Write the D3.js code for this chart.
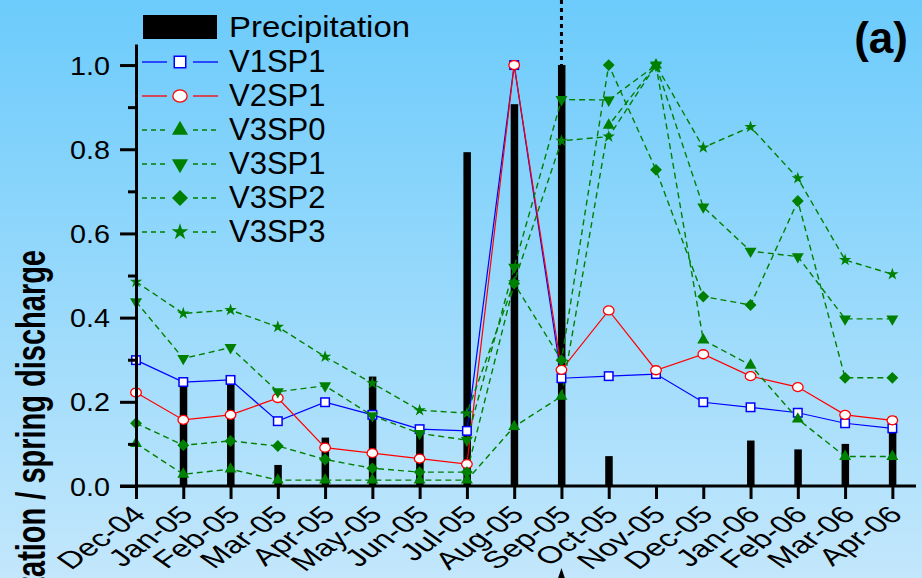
<!DOCTYPE html>
<html>
<head>
<meta charset="utf-8">
<script src="https://cdn.jsdelivr.net/npm/d3@7"></script>
<style>
  html, body { margin: 0; padding: 0; overflow: hidden; }
  #chart { width: 922px; height: 578px; }
  text { font-family: "Liberation Sans", Arial, sans-serif; fill: #000; }
</style>
</head>
<body>
<div id="chart"></div>
<script>
const months = ["Dec-04", "Jan-05", "Feb-05", "Mar-05", "Apr-05", "May-05", "Jun-05", "Jul-05", "Aug-05",
    "Sep-05", "Oct-05", "Nov-05", "Dec-05", "Jan-06", "Feb-06", "Mar-06", "Apr-06"];
const precipitation = [0, 0.247, 0.25, 0.05, 0.115, 0.26, 0.135, 0.793, 0.907, 1.0, 0.071, 0, 0, 0.108, 0.087, 0.10, 0.166];
const v1sp1 = [0.299, 0.247, 0.252, 0.154, 0.199, 0.169, 0.135, 0.131, 1.0, 0.256, 0.261, 0.266, 0.199, 0.187, 0.174, 0.149, 0.137];
const v2sp1 = [0.222, 0.157, 0.169, 0.209, 0.091, 0.078, 0.065, 0.052, 1.0, 0.276, 0.417, 0.275, 0.313, 0.261, 0.235, 0.169, 0.156];
const v3sp0 = [0.101, 0.028, 0.040, 0.014, 0.014, 0.014, 0.014, 0.014, 0.141, 0.213, 0.857, 1.0, 0.347, 0.287, 0.159, 0.070, 0.070];
const v3sp1 = [0.438, 0.303, 0.329, 0.224, 0.238, 0.167, 0.125, 0.109, 0.520, 0.918, 0.917, 1.0, 0.663, 0.558, 0.545, 0.397, 0.397];
const v3sp2 = [0.149, 0.097, 0.107, 0.095, 0.063, 0.042, 0.033, 0.033, 0.481, 0.299, 1.0, 0.751, 0.45, 0.43, 0.677, 0.257, 0.257];
const v3sp3 = [0.485, 0.41, 0.418, 0.378, 0.307, 0.244, 0.18, 0.173, 0.484, 0.82, 0.83, 1.0, 0.804, 0.853, 0.731, 0.537, 0.503];
const yTicks = [0, 0.2, 0.4, 0.6, 0.8, 1.0];

const width = 922, height = 578;
const green = "#008000";

const series = [
    { name: "V1SP1", values: v1sp1, color: "#0000ff", dash: null, shape: "square" },
    { name: "V2SP1", values: v2sp1, color: "#ff0000", dash: null, shape: "circle" },
    { name: "V3SP0", values: v3sp0, color: green, dash: "6,4", shape: "up" },
    { name: "V3SP1", values: v3sp1, color: green, dash: "6,4", shape: "down" },
    { name: "V3SP2", values: v3sp2, color: green, dash: "6,4", shape: "diamond" },
    { name: "V3SP3", values: v3sp3, color: green, dash: "6,4", shape: "star" }
];

const svg = d3.select("#chart").append("svg")
    .attr("width", width)
    .attr("height", height);

const grad = svg.append("defs").append("linearGradient")
    .attr("id", "bg").attr("x1", 0).attr("y1", 0).attr("x2", 0).attr("y2", 1);
grad.append("stop").attr("offset", "0%").attr("stop-color", "#6ccbfb");
grad.append("stop").attr("offset", "100%").attr("stop-color", "#c3e7fc");
svg.append("rect").attr("width", width).attr("height", height).attr("fill", "url(#bg)");

const x = d3.scaleLinear().domain([0, 16.5]).range([136, 916]);
const y = d3.scaleLinear().domain([0, 1.05]).range([486, 44]);

// markers
function drawMarker(g, shape, color, cx, cy, big) {
    const k = big ? 1.35 : 1;
    if (shape === "square") {
        const s = 8.5 * k;
        g.append("rect").attr("x", cx - s / 2).attr("y", cy - s / 2).attr("width", s).attr("height", s)
            .attr("fill", "#fff").attr("stroke", color).attr("stroke-width", 1.5);
    } else if (shape === "circle") {
        g.append("ellipse").attr("cx", cx).attr("cy", cy).attr("rx", 5.3 * k).attr("ry", 4.5 * k)
            .attr("fill", "#fff").attr("stroke", color).attr("stroke-width", 1.3);
    } else {
        let sym, rot = 0, size;
        if (shape === "up") { sym = d3.symbolTriangle; size = 62 * k * k; }
        if (shape === "down") { sym = d3.symbolTriangle; size = 62 * k * k; rot = 180; }
        if (shape === "diamond") { sym = d3.symbolSquare; size = 70 * k * k; rot = 45; }
        if (shape === "star") { sym = d3.symbolStar; size = 48 * k * k; }
        g.append("path").attr("d", d3.symbol(sym, size)())
            .attr("transform", `translate(${cx},${cy}) rotate(${rot})`)
            .attr("fill", color);
    }
}

// bars
svg.append("g")
    .selectAll("rect")
    .data(precipitation.map((v, i) => ({ v, i })).filter(d => d.v > 0))
    .join("rect")
    .attr("x", d => x(d.i) - 3.5)
    .attr("y", d => y(d.v))
    .attr("width", 7.5)
    .attr("height", d => y(0) - y(d.v))
    .attr("fill", "#000");

// dotted marker line at Sep-05
svg.append("line")
    .attr("x1", x(9)).attr("x2", x(9))
    .attr("y1", 0).attr("y2", y(1.0))
    .attr("stroke", "#000").attr("stroke-width", 3).attr("stroke-dasharray", "4,4");

// lines
const line = d3.line().x((d, i) => x(i)).y(d => y(d));
series.forEach(s => {
    svg.append("path")
        .attr("d", line(s.values))
        .attr("fill", "none")
        .attr("stroke", s.color)
        .attr("stroke-width", s.dash ? 1.4 : 1.2)
        .attr("stroke-dasharray", s.dash);
});
series.forEach(s => {
    const g = svg.append("g");
    s.values.forEach((v, i) => drawMarker(g, s.shape, s.color, x(i), y(v), false));
});

// axes
const xAxis = svg.append("g")
    .attr("transform", `translate(0,${y(0)})`)
    .call(d3.axisBottom(x).tickValues(d3.range(0.5, 17, 1)).tickSize(7).tickFormat(""));
xAxis.call(d3.axisBottom(x).tickValues(d3.range(0, 17)).tickSize(13).tickSizeOuter(0)
    .tickFormat(i => months[i]));
xAxis.select(".domain").remove();
xAxis.append("line").attr("x1", 120).attr("x2", 916).attr("stroke", "#000").attr("stroke-width", 3);
// labels are drawn wide, like the stretched original
xAxis.selectAll("text")
    .attr("font-size", 24)
    .attr("text-anchor", "end")
    .attr("dy", null)
    .attr("y", 0)
    .attr("transform", "translate(11,30) scale(1.4,1) rotate(-45)");

const yMinor = svg.append("g")
    .attr("transform", `translate(${x(0)},0)`)
    .call(d3.axisLeft(y).tickValues([0.1, 0.3, 0.5, 0.7, 0.9]).tickSize(8).tickFormat(""));
yMinor.select(".domain").remove();
const yAxis = svg.append("g")
    .attr("transform", `translate(${x(0)},0)`)
    .call(d3.axisLeft(y).tickValues(yTicks).tickSize(16).tickSizeOuter(0).tickPadding(10)
        .tickFormat(d3.format(".1f")));
yAxis.select(".domain").attr("stroke-width", 3);
svg.selectAll("g line").attr("stroke-width", 3);
yAxis.selectAll("text").attr("font-size", 25).attr("dy", "0.36em")
    .attr("textLength", 40).attr("lengthAdjust", "spacingAndGlyphs");

// y label (partly off page, as in the original)
svg.append("text")
    .attr("transform", "translate(45,250) scale(1.4,1) rotate(-90)")
    .attr("text-anchor", "end")
    .attr("font-size", 29)
    .attr("font-weight", "bold")
    .text("Precipitation / spring discharge");

// small arrow at Sep-05
svg.append("path")
    .attr("d", `M${x(9)},568 L${x(9) - 4},580 L${x(9) + 4},580 Z`)
    .attr("fill", "#000");

// panel label
svg.append("text")
    .attr("x", 908).attr("y", 53)
    .attr("text-anchor", "end")
    .attr("font-size", 44)
    .attr("font-weight", "bold")
    .text("(a)");

// legend
const legend = svg.append("g");
legend.append("rect").attr("x", 143).attr("y", 15).attr("width", 74).attr("height", 24).attr("fill", "#000");
legend.append("text").attr("x", 229).attr("y", 37).attr("font-size", 29)
    .attr("textLength", 181).attr("lengthAdjust", "spacingAndGlyphs")
    .text("Precipitation");
series.forEach((s, i) => {
    const ly = 62 + i * 34;
    [[142, 167], [193, 218]].forEach(([a, b]) => {
        legend.append("line").attr("x1", a).attr("x2", b).attr("y1", ly).attr("y2", ly)
            .attr("stroke", s.color).attr("stroke-width", 1.3)
            .attr("stroke-dasharray", s.dash ? "5,4" : null);
    });
    drawMarker(legend, s.shape, s.color, 180, ly, true);
    legend.append("text").attr("x", 229).attr("y", ly + 10).attr("font-size", 31).text(s.name);
});
</script>
</body>
</html>
